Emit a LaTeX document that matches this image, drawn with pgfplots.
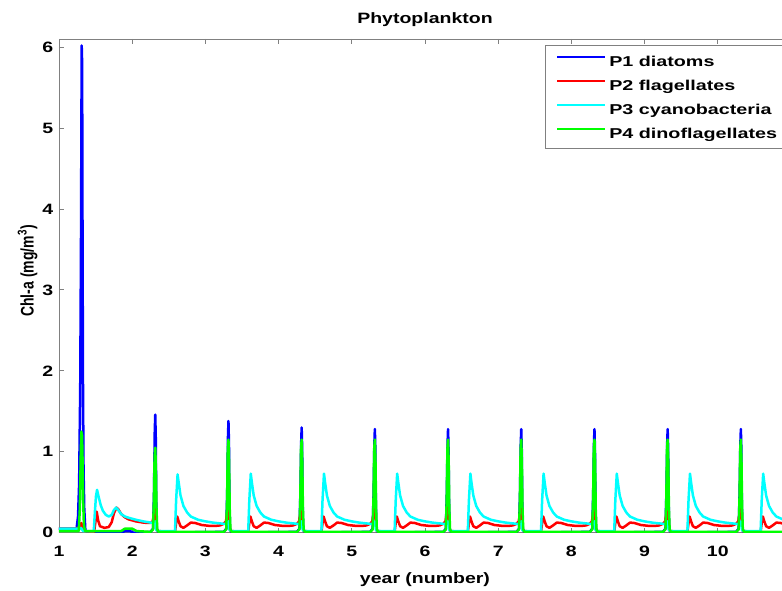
\documentclass[border=0pt]{standalone}
\usepackage{graphicx}
\usepackage{pgfplots}
\pgfplotsset{compat=1.18}
\usepackage{fontspec}
\setmainfont{Liberation Sans}[FakeStretch=1.3]
\newfontfamily\legfont{Liberation Sans}[FakeStretch=1.38]
\newfontfamily\ylfont{Liberation Sans}
\definecolor{mgray}{RGB}{128,128,128}
\definecolor{pblue}{RGB}{0,0,255}
\definecolor{pred}{RGB}{255,0,0}
\definecolor{pcyan}{RGB}{0,255,255}
\definecolor{pgreen}{RGB}{0,255,0}
\newcommand\tickfont{\fontsize{15}{18}\selectfont\bfseries}
\newcommand\labfont{\fontsize{15}{18}\selectfont\bfseries}
\begin{document}
\begin{tikzpicture}
\begin{axis}[
  at={(0pt,0pt)}, anchor=south west,
  scale only axis, width=732pt, height=493.7pt,
  xmin=1, xmax=11, ymin=0, ymax=6.1,
  xtick={1,2,3,4,5,6,7,8,9,10}, ytick={0,1,2,3,4,5,6},
  /pgf/number format/assume math mode=true,
  tick align=inside, major tick length=5pt,
  axis line style={mgray, line width=0.8pt},
  every tick/.style={mgray, line width=0.8pt},
  xticklabel style={font=\tickfont, anchor=base, yshift=-23.3pt, inner sep=0pt},
  yticklabel style={font=\tickfont, anchor=east, xshift=-5.5pt, inner sep=0pt},
  title={Phytoplankton},
  title style={font=\labfont, at={(axis description cs:0.5,1)}, anchor=base, yshift=9.5pt},
  xlabel={year (number)},
  xlabel style={font=\labfont, at={(axis description cs:0.5,0)}, anchor=base, yshift=-50.6pt},
  ylabel={\scalebox{1}[1.3]{Chl-a (mg/m\textsuperscript{3})}},
  ylabel style={font=\ylfont\fontsize{14}{16}\selectfont\bfseries, at={(axis description cs:-0.0348,0.53)}, anchor=base},
  legend cell align=left,
  legend image code/.code={\draw[#1,line width=2pt] (0pt,3.5pt) -- (48pt,3.5pt);},
  legend style={at={(rel axis cs:0.664,0.988)}, anchor=north west, draw=none, name=leg,
    font=\legfont\fontsize{14.3}{16}\selectfont\bfseries, inner xsep=11pt, inner ysep=4pt, row sep=2.2pt,
    nodes={inner sep=3pt, text height=14pt, text depth=2pt}},
  every axis plot/.append style={line width=2.5pt, line join=round},
]
% P1 diatoms
\addplot[pblue] coordinates {
(1.00,0.05)(1.24,0.05)(1.26,0.2)(1.275,0.6)(1.29,1.8)(1.30,3.5)(1.31,6.02)(1.316,5.8)(1.322,3.5)(1.328,1.8)(1.335,0.8)(1.345,0.3)(1.36,0.03)(1.40,0)(1.85,0)(1.90,0.02)(1.97,0.02)(2.02,0)
(2.25,0.01)(2.285,0.05)(2.298,0.5)(2.308,1.24)(2.315,1.46)(2.322,1.17)(2.328,0.4)(2.336,0.05)(2.36,0)
(3.25,0.01)(3.285,0.05)(3.298,0.5)(3.308,1.17)(3.315,1.38)(3.322,1.10)(3.328,0.4)(3.336,0.05)(3.36,0)
(4.25,0.01)(4.285,0.05)(4.298,0.5)(4.308,1.10)(4.315,1.30)(4.322,1.04)(4.328,0.4)(4.336,0.05)(4.36,0)
(5.25,0.01)(5.285,0.05)(5.298,0.5)(5.308,1.09)(5.315,1.28)(5.322,1.02)(5.328,0.4)(5.336,0.05)(5.36,0)
(6.25,0.01)(6.285,0.05)(6.298,0.5)(6.308,1.09)(6.315,1.28)(6.322,1.02)(6.328,0.4)(6.336,0.05)(6.36,0)
(7.25,0.01)(7.285,0.05)(7.298,0.5)(7.308,1.09)(7.315,1.28)(7.322,1.02)(7.328,0.4)(7.336,0.05)(7.36,0)
(8.25,0.01)(8.285,0.05)(8.298,0.5)(8.308,1.09)(8.315,1.28)(8.322,1.02)(8.328,0.4)(8.336,0.05)(8.36,0)
(9.25,0.01)(9.285,0.05)(9.298,0.5)(9.308,1.09)(9.315,1.28)(9.322,1.02)(9.328,0.4)(9.336,0.05)(9.36,0)
(10.25,0.01)(10.285,0.05)(10.298,0.5)(10.308,1.09)(10.315,1.28)(10.322,1.02)(10.328,0.4)(10.336,0.05)(10.36,0)
(11.0,0)
};
\addlegendentry{P1 diatoms}
% P2 flagellates
\addplot[pred] coordinates {
(1.00,0.05)(1.25,0.05)(1.29,0.09)(1.305,0.12)(1.32,0.08)(1.34,0.02)(1.48,0.01)(1.50,0.15)(1.515,0.26)(1.535,0.15)(1.56,0.08)(1.62,0.06)(1.68,0.07)(1.72,0.13)(1.75,0.24)(1.785,0.31)(1.81,0.29)(1.85,0.23)(1.90,0.19)(1.95,0.165)(2.05,0.14)(2.15,0.125)(2.22,0.12)
(2.25,0.12)(2.28,0.14)(2.30,0.25)(2.315,0.35)(2.325,0.15)(2.34,0.02)(2.585,0.01)(2.60,0.12)(2.615,0.2)(2.635,0.14)(2.66,0.08)(2.70,0.06)(2.75,0.09)(2.80,0.125)(2.86,0.12)(2.95,0.095)(3.05,0.085)(3.15,0.085)(3.20,0.09)
(3.25,0.11)(3.28,0.14)(3.30,0.25)(3.315,0.42)(3.325,0.15)(3.34,0.02)(3.585,0.01)(3.60,0.12)(3.615,0.2)(3.635,0.14)(3.66,0.08)(3.70,0.06)(3.75,0.09)(3.80,0.125)(3.86,0.12)(3.95,0.095)(4.05,0.085)(4.15,0.085)(4.20,0.09)
(4.25,0.11)(4.28,0.14)(4.30,0.25)(4.315,0.42)(4.325,0.15)(4.34,0.02)(4.585,0.01)(4.60,0.12)(4.615,0.2)(4.635,0.14)(4.66,0.08)(4.70,0.06)(4.75,0.09)(4.80,0.125)(4.86,0.12)(4.95,0.095)(5.05,0.085)(5.15,0.085)(5.20,0.09)
(5.25,0.11)(5.28,0.14)(5.30,0.25)(5.315,0.42)(5.325,0.15)(5.34,0.02)(5.585,0.01)(5.60,0.12)(5.615,0.2)(5.635,0.14)(5.66,0.08)(5.70,0.06)(5.75,0.09)(5.80,0.125)(5.86,0.12)(5.95,0.095)(6.05,0.085)(6.15,0.085)(6.20,0.09)
(6.25,0.11)(6.28,0.14)(6.30,0.25)(6.315,0.42)(6.325,0.15)(6.34,0.02)(6.585,0.01)(6.60,0.12)(6.615,0.2)(6.635,0.14)(6.66,0.08)(6.70,0.06)(6.75,0.09)(6.80,0.125)(6.86,0.12)(6.95,0.095)(7.05,0.085)(7.15,0.085)(7.20,0.09)
(7.25,0.11)(7.28,0.14)(7.30,0.25)(7.315,0.42)(7.325,0.15)(7.34,0.02)(7.585,0.01)(7.60,0.12)(7.615,0.2)(7.635,0.14)(7.66,0.08)(7.70,0.06)(7.75,0.09)(7.80,0.125)(7.86,0.12)(7.95,0.095)(8.05,0.085)(8.15,0.085)(8.20,0.09)
(8.25,0.11)(8.28,0.14)(8.30,0.25)(8.315,0.42)(8.325,0.15)(8.34,0.02)(8.585,0.01)(8.60,0.12)(8.615,0.2)(8.635,0.14)(8.66,0.08)(8.70,0.06)(8.75,0.09)(8.80,0.125)(8.86,0.12)(8.95,0.095)(9.05,0.085)(9.15,0.085)(9.20,0.09)
(9.25,0.11)(9.28,0.14)(9.30,0.25)(9.315,0.42)(9.325,0.15)(9.34,0.02)(9.585,0.01)(9.60,0.12)(9.615,0.2)(9.635,0.14)(9.66,0.08)(9.70,0.06)(9.75,0.09)(9.80,0.125)(9.86,0.12)(9.95,0.095)(10.05,0.085)(10.15,0.085)(10.20,0.09)
(10.25,0.11)(10.28,0.14)(10.30,0.25)(10.315,0.42)(10.325,0.15)(10.34,0.02)(10.585,0.01)(10.60,0.12)(10.615,0.2)(10.635,0.14)(10.66,0.08)(10.70,0.06)(10.75,0.09)(10.80,0.125)(10.86,0.12)(10.95,0.095)(11.0,0.09)
};
\addlegendentry{P2 flagellates}
% P3 cyanobacteria
\addplot[pcyan] coordinates {
(1.00,0.05)(1.28,0.05)(1.30,0.06)(1.33,0.02)(1.475,0.02)(1.49,0.25)(1.505,0.45)(1.52,0.53)(1.54,0.45)(1.57,0.34)(1.60,0.27)(1.64,0.22)(1.68,0.2)(1.72,0.22)(1.75,0.28)(1.78,0.31)(1.81,0.28)(1.85,0.23)(1.90,0.2)(1.95,0.185)(2.05,0.16)(2.15,0.14)(2.22,0.13)
(2.25,0.125)(2.30,0.12)(2.315,0.14)(2.33,0.03)(2.36,0.02)(2.585,0.02)(2.60,0.4)(2.62,0.72)(2.635,0.62)(2.66,0.46)(2.70,0.33)(2.75,0.25)(2.80,0.2)(2.85,0.18)(2.90,0.16)(3.00,0.14)(3.10,0.125)(3.20,0.115)
(3.25,0.11)(3.30,0.11)(3.315,0.14)(3.33,0.03)(3.36,0.02)(3.585,0.02)(3.60,0.4)(3.62,0.73)(3.635,0.62)(3.66,0.46)(3.70,0.33)(3.75,0.25)(3.80,0.2)(3.85,0.18)(3.90,0.16)(4.00,0.14)(4.10,0.125)(4.20,0.115)
(4.25,0.11)(4.30,0.11)(4.315,0.14)(4.33,0.03)(4.36,0.02)(4.585,0.02)(4.60,0.4)(4.62,0.73)(4.635,0.62)(4.66,0.46)(4.70,0.33)(4.75,0.25)(4.80,0.2)(4.85,0.18)(4.90,0.16)(5.00,0.14)(5.10,0.125)(5.20,0.115)
(5.25,0.11)(5.30,0.11)(5.315,0.14)(5.33,0.03)(5.36,0.02)(5.585,0.02)(5.60,0.4)(5.62,0.73)(5.635,0.62)(5.66,0.46)(5.70,0.33)(5.75,0.25)(5.80,0.2)(5.85,0.18)(5.90,0.16)(6.00,0.14)(6.10,0.125)(6.20,0.115)
(6.25,0.11)(6.30,0.11)(6.315,0.14)(6.33,0.03)(6.36,0.02)(6.585,0.02)(6.60,0.4)(6.62,0.73)(6.635,0.62)(6.66,0.46)(6.70,0.33)(6.75,0.25)(6.80,0.2)(6.85,0.18)(6.90,0.16)(7.00,0.14)(7.10,0.125)(7.20,0.115)
(7.25,0.11)(7.30,0.11)(7.315,0.14)(7.33,0.03)(7.36,0.02)(7.585,0.02)(7.60,0.4)(7.62,0.73)(7.635,0.62)(7.66,0.46)(7.70,0.33)(7.75,0.25)(7.80,0.2)(7.85,0.18)(7.90,0.16)(8.00,0.14)(8.10,0.125)(8.20,0.115)
(8.25,0.11)(8.30,0.11)(8.315,0.14)(8.33,0.03)(8.36,0.02)(8.585,0.02)(8.60,0.4)(8.62,0.73)(8.635,0.62)(8.66,0.46)(8.70,0.33)(8.75,0.25)(8.80,0.2)(8.85,0.18)(8.90,0.16)(9.00,0.14)(9.10,0.125)(9.20,0.115)
(9.25,0.11)(9.30,0.11)(9.315,0.14)(9.33,0.03)(9.36,0.02)(9.585,0.02)(9.60,0.4)(9.62,0.73)(9.635,0.62)(9.66,0.46)(9.70,0.33)(9.75,0.25)(9.80,0.2)(9.85,0.18)(9.90,0.16)(10.00,0.14)(10.10,0.125)(10.20,0.115)
(10.25,0.11)(10.30,0.11)(10.315,0.14)(10.33,0.03)(10.36,0.02)(10.585,0.02)(10.60,0.4)(10.62,0.73)(10.635,0.62)(10.66,0.46)(10.70,0.33)(10.75,0.25)(10.80,0.2)(10.85,0.18)(10.90,0.16)(11.00,0.14)
};
\addlegendentry{P3 cyanobacteria}
% P4 dinoflagellates
\addplot[pgreen] coordinates {
(1.00,0.02)(1.27,0.02)(1.285,0.3)(1.298,1.0)(1.305,1.25)(1.315,1.2)(1.322,0.9)(1.33,0.4)(1.34,0.1)(1.355,0.02)(1.85,0.02)(1.90,0.05)(2.00,0.05)(2.06,0.02)
(2.25,0.01)(2.285,0.04)(2.296,0.4)(2.306,0.95)(2.315,1.05)(2.324,0.79)(2.332,0.3)(2.342,0.04)(2.36,0.01)
(3.25,0.01)(3.285,0.04)(3.296,0.4)(3.306,1.035)(3.315,1.15)(3.324,0.86)(3.332,0.3)(3.342,0.04)(3.36,0.01)
(4.25,0.01)(4.285,0.04)(4.296,0.4)(4.306,1.035)(4.315,1.15)(4.324,0.86)(4.332,0.3)(4.342,0.04)(4.36,0.01)
(5.25,0.01)(5.285,0.04)(5.296,0.4)(5.306,1.035)(5.315,1.15)(5.324,0.86)(5.332,0.3)(5.342,0.04)(5.36,0.01)
(6.25,0.01)(6.285,0.04)(6.296,0.4)(6.306,1.035)(6.315,1.15)(6.324,0.86)(6.332,0.3)(6.342,0.04)(6.36,0.01)
(7.25,0.01)(7.285,0.04)(7.296,0.4)(7.306,1.035)(7.315,1.15)(7.324,0.86)(7.332,0.3)(7.342,0.04)(7.36,0.01)
(8.25,0.01)(8.285,0.04)(8.296,0.4)(8.306,1.035)(8.315,1.15)(8.324,0.86)(8.332,0.3)(8.342,0.04)(8.36,0.01)
(9.25,0.01)(9.285,0.04)(9.296,0.4)(9.306,1.035)(9.315,1.15)(9.324,0.86)(9.332,0.3)(9.342,0.04)(9.36,0.01)
(10.25,0.01)(10.285,0.04)(10.296,0.4)(10.306,1.035)(10.315,1.15)(10.324,0.86)(10.332,0.3)(10.342,0.04)(10.36,0.01)
(11.0,0.01)
};
\addlegendentry{P4 dinoflagellates}
\end{axis}
\draw[mgray, line width=0.8pt] ([xshift=60pt]leg.north west -| leg.north east) -- (leg.north west) -- (leg.south west) -- ([xshift=60pt]leg.south west -| leg.south east);
\pgfresetboundingbox
\useasboundingbox (-59pt,-57.3pt) rectangle (723pt,532.7pt);
\end{tikzpicture}
\end{document}
